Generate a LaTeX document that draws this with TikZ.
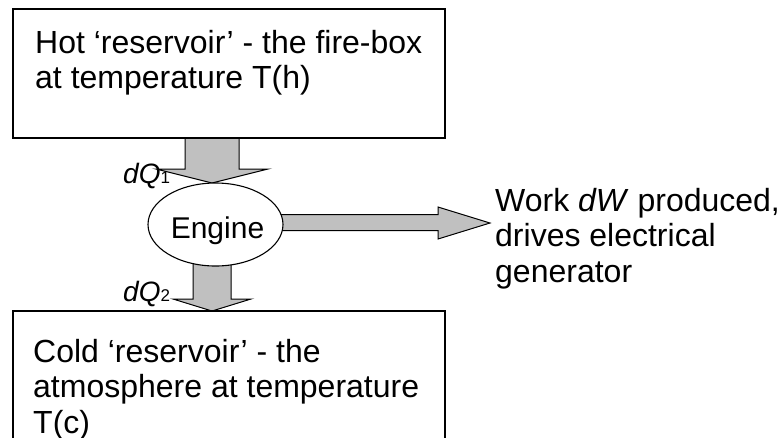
\documentclass[tikz,border=0pt]{standalone}
\usepackage{fontspec}
\setmainfont{Liberation Sans}
\usetikzlibrary{shapes.geometric,calc,backgrounds}
\definecolor{arrowgray}{RGB}{192,192,192}
\begin{document}
\begin{tikzpicture}[x=1pt,y=-1pt,
  box/.style={draw,line width=1.6pt,inner sep=0,outer sep=0,anchor=north west,minimum width=432,minimum height=129},
  blockarrow/.style={draw,line width=1pt,fill=arrowgray,line join=miter},
  engineshape/.style={draw,ellipse,line width=1.1pt,fill=white,inner sep=0,outer sep=0,minimum width=135,minimum height=83},
  txt/.style={inner sep=0,anchor=base west,font=\fontsize{32}{35.5}\selectfont},
  lbl/.style={inner sep=0,anchor=base west}]
\useasboundingbox (0,0) rectangle (781,437);
\clip (0,0) rectangle (781,437);

% reservoirs
\node[box] (hot) at (13,9) {};
\node[box,minimum height=170] (cold) at (13,311) {};

% engine
\node[engineshape] (engine) at (215.5,224.5) {};
\node[inner sep=0,anchor=base,font=\fontsize{30}{36}\selectfont] (enginetxt) at (217.5,238) {Engine};

% arrows (behind)
\coordinate (toptop) at ($(hot.south west)+(199,0)$);
\coordinate (toptip) at ($(engine.north)+(-3.5,0)$);
\coordinate (bottip) at ($(cold.north west)+(199,0)$);
\coordinate (rtip) at ($(engine.east)+(207,-1.5)$);
\begin{scope}[on background layer]
  \draw[blockarrow] ($(toptop)+(-27,0)$) -- ($(toptop)+(-27,31)$) -- ($(toptop)+(-56,31)$)
     -- (toptip) -- ($(toptop)+(56,31)$) -- ($(toptop)+(27,31)$) -- ($(toptop)+(27,0)$) -- cycle;
  \draw[blockarrow] ($(bottip)+(-19,-50)$) -- ($(bottip)+(-19,-12)$) -- ($(bottip)+(-39,-12)$)
     -- (bottip) -- ($(bottip)+(39,-12)$) -- ($(bottip)+(19,-12)$) -- ($(bottip)+(19,-50)$) -- cycle;
  \draw[blockarrow] ($(rtip)+(-215,-8.5)$) -- ($(rtip)+(-52,-8.5)$) -- ($(rtip)+(-52,-16)$)
     -- (rtip) -- ($(rtip)+(-52,16)$) -- ($(rtip)+(-52,7.5)$) -- ($(rtip)+(-215,7.5)$) -- cycle;
\end{scope}

% texts
\node[txt] (hottxt) at (35,53) {\begin{tabular}[t]{@{}l@{}}Hot ‘reservoir’ - the fire-box\\at temperature T(h)\end{tabular}};
\node[txt] (coldtxt) at (33,362) {\begin{tabular}[t]{@{}l@{}}Cold ‘reservoir’ - the\\atmosphere at temperature\\T(c)\end{tabular}};
\node[txt] (worktxt) at (495,211) {\begin{tabular}[t]{@{}l@{}}Work \textit{dW} produced,\\drives electrical\\generator\end{tabular}};

% labels
\node[lbl] (dq1) at (123,183) {\fontsize{28}{30}\selectfont\itshape dQ\fontsize{17}{20}\selectfont\upshape 1};
\node[lbl] (dq2) at (123,301) {\fontsize{28}{30}\selectfont\itshape dQ\fontsize{17}{20}\selectfont\upshape 2};
\end{tikzpicture}
\end{document}
